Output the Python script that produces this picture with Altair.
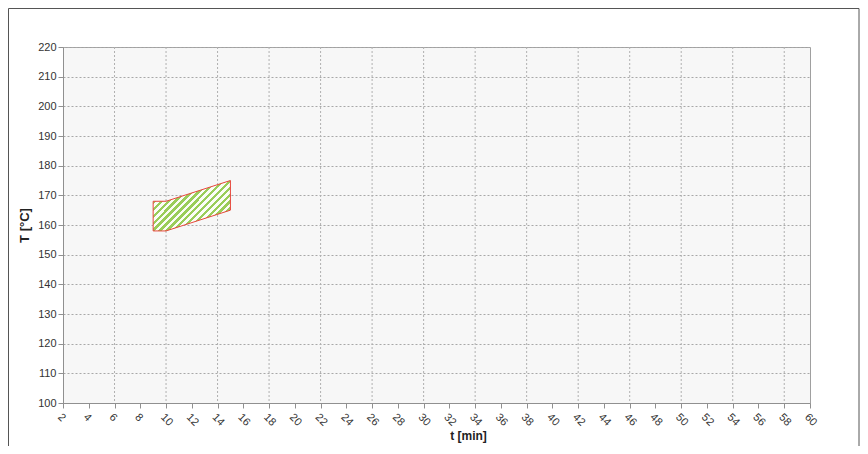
import altair as alt
import pandas as pd

# data
t_vals = [9, 10, 15]
T_low = [158, 158, 165]
T_high = [168, 168, 175]
x_ticks = list(range(2, 61, 2))
x_grid = list(range(6, 59, 4))
y_ticks = list(range(100, 221, 10))

W, H = 747, 356

area_df = pd.DataFrame({"t": t_vals, "lo": T_low, "hi": T_high})
grid_df = pd.DataFrame({"t": x_grid})

# hatch-like stripes via hard-stop gradient
green = "#9acd5a"
white = "#fbfdf7"
n = 16
stops = []
for i in range(n):
    a = i / n
    m = (i + 0.5) / n
    b = (i + 1) / n
    stops += [alt.GradientStop(offset=a, color=green), alt.GradientStop(offset=m, color=green),
              alt.GradientStop(offset=m, color=white), alt.GradientStop(offset=b, color=white)]
hatch = alt.Gradient(gradient="linear", stops=stops, x1=0, y1=0, x2=1, y2=0.65)

xscale = alt.Scale(domain=[2, 60], nice=False, zero=False)
yscale = alt.Scale(domain=[100, 220], nice=False, zero=False)

x_axis = alt.Axis(values=x_ticks, title="t [min]", labelAngle=45, grid=False,
                  labelAlign="left", labelBaseline="top", labelPadding=3,
                  labelOverlap=False, labelFlush=False,
                  titleX=405, titleY=27, titleBaseline="top")

border = alt.Chart(pd.DataFrame({"a": [0]})).mark_rect(
    fill=None, stroke="#555555", strokeWidth=1
).encode(x=alt.value(-54.5), x2=alt.value(796), y=alt.value(-38.5), y2=alt.value(420))

vgrid = alt.Chart(grid_df).mark_rule(color="#b0b0b0", strokeDash=[2, 2], strokeWidth=1).encode(
    x=alt.X("t:Q", scale=xscale, axis=x_axis)
)

area = alt.Chart(area_df).mark_area(
    fill=hatch, stroke="#e8463c", strokeWidth=1, interpolate="linear"
).encode(
    x=alt.X("t:Q", scale=xscale, axis=x_axis),
    y=alt.Y("hi:Q", scale=yscale,
            axis=alt.Axis(values=y_ticks, title="T  [°C]", grid=True, titlePadding=6,
                          labelOverlap=False, titleFontSize=13)),
    y2="lo:Q",
)

chart = alt.layer(vgrid, area, border).properties(
    width=W, height=H,
    autosize=alt.AutoSizeParams(type="none"),
    padding={"left": 55, "top": 39, "right": 50, "bottom": 43},
    background="white",
).configure_view(
    fill="#f7f7f7", stroke="#a0a0a0", strokeWidth=1
).configure_axis(
    labelFont="Liberation Sans", labelFontSize=11, labelColor="#333333",
    titleFont="Liberation Sans", titleFontSize=12, titleFontWeight="bold", titleColor="#222222",
    domainColor="#909090", tickColor="#909090", tickSize=5,
    gridColor="#a8a8a8", gridDash=[2, 2], gridWidth=1,
)

chart.save("out.html", embed_options={"renderer": "svg", "actions": False})
